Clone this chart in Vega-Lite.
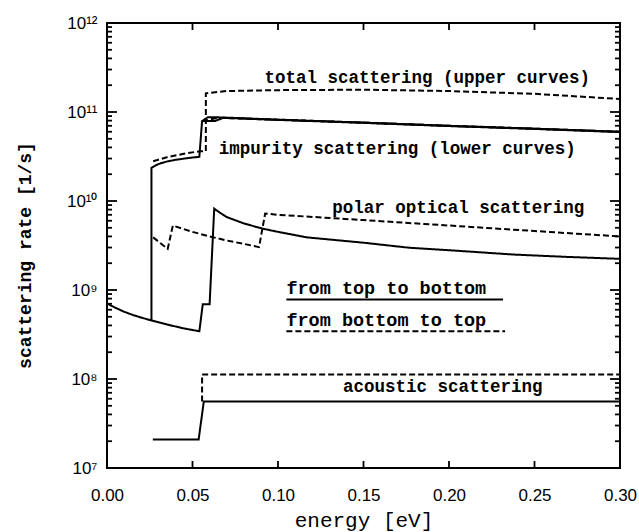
{
  "$schema": "https://vega.github.io/schema/vega-lite/v6.json",
  "width": 513,
  "height": 445,
  "autosize": {"type": "none"},
  "padding": {"left": 107, "top": 23, "right": 19, "bottom": 64},
  "background": "white",
  "config": {
    "view": {"stroke": "black", "strokeWidth": 2}
  },
  "datasets": {
    "curves": [
      {"s": "pol_s", "st": "solid", "e": 0, "r": 7.05e8},
      {"s": "pol_s", "st": "solid", "e": 0.005, "r": 6.3e8},
      {"s": "pol_s", "st": "solid", "e": 0.01, "r": 5.7e8},
      {"s": "pol_s", "st": "solid", "e": 0.015, "r": 5.25e8},
      {"s": "pol_s", "st": "solid", "e": 0.02, "r": 4.9e8},
      {"s": "pol_s", "st": "solid", "e": 0.026, "r": 4.55e8},
      {"s": "pol_s", "st": "solid", "e": 0.035, "r": 4.1e8},
      {"s": "pol_s", "st": "solid", "e": 0.045, "r": 3.7e8},
      {"s": "pol_s", "st": "solid", "e": 0.054, "r": 3.44e8},
      {"s": "pol_s", "st": "solid", "e": 0.056, "r": 6.9e8},
      {"s": "pol_s", "st": "solid", "e": 0.06, "r": 6.9e8},
      {"s": "pol_s", "st": "solid", "e": 0.0627, "r": 8.2e9},
      {"s": "pol_s", "st": "solid", "e": 0.066, "r": 7.4e9},
      {"s": "pol_s", "st": "solid", "e": 0.07, "r": 6.6e9},
      {"s": "pol_s", "st": "solid", "e": 0.08, "r": 5.6e9},
      {"s": "pol_s", "st": "solid", "e": 0.0908, "r": 4.9e9},
      {"s": "pol_s", "st": "solid", "e": 0.1, "r": 4.5e9},
      {"s": "pol_s", "st": "solid", "e": 0.117, "r": 3.9e9},
      {"s": "pol_s", "st": "solid", "e": 0.15, "r": 3.4e9},
      {"s": "pol_s", "st": "solid", "e": 0.177, "r": 2.98e9},
      {"s": "pol_s", "st": "solid", "e": 0.2, "r": 2.8e9},
      {"s": "pol_s", "st": "solid", "e": 0.238, "r": 2.5e9},
      {"s": "pol_s", "st": "solid", "e": 0.27, "r": 2.35e9},
      {"s": "pol_s", "st": "solid", "e": 0.3, "r": 2.24e9},
      {"s": "pol_d", "st": "dashed", "e": 0.027, "r": 3.9e9},
      {"s": "pol_d", "st": "dashed", "e": 0.0355, "r": 2.9e9},
      {"s": "pol_d", "st": "dashed", "e": 0.0385, "r": 5.3e9},
      {"s": "pol_d", "st": "dashed", "e": 0.05, "r": 4.5e9},
      {"s": "pol_d", "st": "dashed", "e": 0.06, "r": 4.0e9},
      {"s": "pol_d", "st": "dashed", "e": 0.07, "r": 3.6e9},
      {"s": "pol_d", "st": "dashed", "e": 0.08, "r": 3.3e9},
      {"s": "pol_d", "st": "dashed", "e": 0.0889, "r": 3.03e9},
      {"s": "pol_d", "st": "dashed", "e": 0.0925, "r": 7.24e9},
      {"s": "pol_d", "st": "dashed", "e": 0.1, "r": 7.0e9},
      {"s": "pol_d", "st": "dashed", "e": 0.15, "r": 6.1e9},
      {"s": "pol_d", "st": "dashed", "e": 0.2, "r": 5.3e9},
      {"s": "pol_d", "st": "dashed", "e": 0.25, "r": 4.6e9},
      {"s": "pol_d", "st": "dashed", "e": 0.3, "r": 4.0e9},
      {"s": "tot_s", "st": "solid", "e": 0.026, "r": 4.55e8},
      {"s": "tot_s", "st": "solid", "e": 0.026, "r": 2.36e10},
      {"s": "tot_s", "st": "solid", "e": 0.03, "r": 2.6e10},
      {"s": "tot_s", "st": "solid", "e": 0.035, "r": 2.78e10},
      {"s": "tot_s", "st": "solid", "e": 0.04, "r": 2.9e10},
      {"s": "tot_s", "st": "solid", "e": 0.047, "r": 3.03e10},
      {"s": "tot_s", "st": "solid", "e": 0.054, "r": 3.14e10},
      {"s": "tot_s", "st": "solid", "e": 0.0556, "r": 7.9e10},
      {"s": "tot_s", "st": "solid", "e": 0.059, "r": 8.75e10},
      {"s": "tot_s", "st": "solid", "e": 0.066, "r": 8.7e10},
      {"s": "tot_s", "st": "solid", "e": 0.08, "r": 8.5e10},
      {"s": "tot_s", "st": "solid", "e": 0.1, "r": 8.2e10},
      {"s": "tot_s", "st": "solid", "e": 0.15, "r": 7.6e10},
      {"s": "tot_s", "st": "solid", "e": 0.2, "r": 7.0e10},
      {"s": "tot_s", "st": "solid", "e": 0.25, "r": 6.5e10},
      {"s": "tot_s", "st": "solid", "e": 0.3, "r": 6.0e10},
      {"s": "imp_s", "st": "solid", "e": 0.0556, "r": 7.9e10},
      {"s": "imp_s", "st": "solid", "e": 0.063, "r": 7.9e10},
      {"s": "imp_s", "st": "solid", "e": 0.068, "r": 8.6e10},
      {"s": "imp_s", "st": "solid", "e": 0.1, "r": 8.15e10},
      {"s": "imp_s", "st": "solid", "e": 0.15, "r": 7.55e10},
      {"s": "imp_s", "st": "solid", "e": 0.2, "r": 6.95e10},
      {"s": "imp_s", "st": "solid", "e": 0.25, "r": 6.45e10},
      {"s": "imp_s", "st": "solid", "e": 0.3, "r": 5.95e10},
      {"s": "tot_d", "st": "dashed", "e": 0.027, "r": 2.8e10},
      {"s": "tot_d", "st": "dashed", "e": 0.035, "r": 3.1e10},
      {"s": "tot_d", "st": "dashed", "e": 0.045, "r": 3.4e10},
      {"s": "tot_d", "st": "dashed", "e": 0.0546, "r": 3.63e10},
      {"s": "tot_d", "st": "dashed", "e": 0.0578, "r": 3.63e10},
      {"s": "tot_d", "st": "dashed", "e": 0.0578, "r": 1.62e11},
      {"s": "tot_d", "st": "dashed", "e": 0.07, "r": 1.72e11},
      {"s": "tot_d", "st": "dashed", "e": 0.1, "r": 1.76e11},
      {"s": "tot_d", "st": "dashed", "e": 0.15, "r": 1.78e11},
      {"s": "tot_d", "st": "dashed", "e": 0.2, "r": 1.72e11},
      {"s": "tot_d", "st": "dashed", "e": 0.25, "r": 1.6e11},
      {"s": "tot_d", "st": "dashed", "e": 0.3, "r": 1.4e11},
      {"s": "imp_d", "st": "dashed", "e": 0.0556, "r": 7.9e10},
      {"s": "imp_d", "st": "dashed", "e": 0.065, "r": 8.6e10},
      {"s": "imp_d", "st": "dashed", "e": 0.1, "r": 8.2e10},
      {"s": "imp_d", "st": "dashed", "e": 0.15, "r": 7.6e10},
      {"s": "imp_d", "st": "dashed", "e": 0.2, "r": 7.0e10},
      {"s": "imp_d", "st": "dashed", "e": 0.25, "r": 6.5e10},
      {"s": "imp_d", "st": "dashed", "e": 0.3, "r": 6.0e10},
      {"s": "ac_s", "st": "solid", "e": 0.0268, "r": 2.09e7},
      {"s": "ac_s", "st": "solid", "e": 0.0536, "r": 2.09e7},
      {"s": "ac_s", "st": "solid", "e": 0.0566, "r": 5.58e7},
      {"s": "ac_s", "st": "solid", "e": 0.3, "r": 5.58e7},
      {"s": "ac_d", "st": "dashed", "e": 0.0556, "r": 5.58e7},
      {"s": "ac_d", "st": "dashed", "e": 0.0556, "r": 1.12e8},
      {"s": "ac_d", "st": "dashed", "e": 0.3, "r": 1.12e8},
      {"s": "leg_s", "st": "solid", "e": 0.1049, "r": 7.8e8},
      {"s": "leg_s", "st": "solid", "e": 0.2316, "r": 7.8e8},
      {"s": "leg_d", "st": "dashed", "e": 0.1049, "r": 3.44e8},
      {"s": "leg_d", "st": "dashed", "e": 0.2328, "r": 3.44e8}
    ],
    "notes": [
      {"t": "total scattering (upper curves)", "e": 0.1873, "r": 2.38e11},
      {"t": "impurity scattering (lower curves)", "e": 0.1697, "r": 3.8e10},
      {"t": "polar optical scattering", "e": 0.2054, "r": 8.4e9},
      {"t": "acoustic scattering", "e": 0.1964, "r": 8.2e7}
    ],
    "legend": [
      {"t": "from top to bottom", "e": 0.1049, "r": 1.06e9},
      {"t": "from bottom to top", "e": 0.1049, "r": 4.58e8}
    ],
    "yticks": [
      {"v": 1e7, "k": "major"}, {"v": 2e7, "k": "minor"}, {"v": 3e7, "k": "minor"}, {"v": 4e7, "k": "minor"}, {"v": 5e7, "k": "minor"}, {"v": 6e7, "k": "minor"}, {"v": 7e7, "k": "minor"}, {"v": 8e7, "k": "minor"}, {"v": 9e7, "k": "minor"},
      {"v": 1e8, "k": "major"}, {"v": 2e8, "k": "minor"}, {"v": 3e8, "k": "minor"}, {"v": 4e8, "k": "minor"}, {"v": 5e8, "k": "minor"}, {"v": 6e8, "k": "minor"}, {"v": 7e8, "k": "minor"}, {"v": 8e8, "k": "minor"}, {"v": 9e8, "k": "minor"},
      {"v": 1e9, "k": "major"}, {"v": 2e9, "k": "minor"}, {"v": 3e9, "k": "minor"}, {"v": 4e9, "k": "minor"}, {"v": 5e9, "k": "minor"}, {"v": 6e9, "k": "minor"}, {"v": 7e9, "k": "minor"}, {"v": 8e9, "k": "minor"}, {"v": 9e9, "k": "minor"},
      {"v": 1e10, "k": "major"}, {"v": 2e10, "k": "minor"}, {"v": 3e10, "k": "minor"}, {"v": 4e10, "k": "minor"}, {"v": 5e10, "k": "minor"}, {"v": 6e10, "k": "minor"}, {"v": 7e10, "k": "minor"}, {"v": 8e10, "k": "minor"}, {"v": 9e10, "k": "minor"},
      {"v": 1e11, "k": "major"}, {"v": 2e11, "k": "minor"}, {"v": 3e11, "k": "minor"}, {"v": 4e11, "k": "minor"}, {"v": 5e11, "k": "minor"}, {"v": 6e11, "k": "minor"}, {"v": 7e11, "k": "minor"}, {"v": 8e11, "k": "minor"}, {"v": 9e11, "k": "minor"},
      {"v": 1e12, "k": "major"}
    ],
    "xticks": [
      {"v": 0.05}, {"v": 0.1}, {"v": 0.15}, {"v": 0.2}, {"v": 0.25}
    ]
  },
  "layer": [
    {
      "data": {"name": "curves"},
      "mark": {"type": "line", "strokeWidth": 2, "color": "black", "clip": true},
      "encoding": {
        "x": {
          "field": "e", "type": "quantitative",
          "scale": {"domain": [0, 0.3], "nice": false, "zero": false},
          "axis": {
            "orient": "bottom",
            "domain": false,
            "grid": false,
            "ticks": false,
            "tickSize": 0,
            "values": [0, 0.05, 0.1, 0.15, 0.2, 0.25, 0.3],
            "format": ".2f",
            "labelPadding": 19,
            "labelFlush": false,
            "labelOverlap": false,
            "labelColor": "black",
            "labelFont": "Liberation Sans",
            "labelFontSize": 17,
            "title": "energy [eV]",
            "titleColor": "black",
            "titleFont": "Liberation Mono",
            "titleFontSize": 21,
            "titleFontWeight": "normal",
            "titleX": 256.5,
            "titleY": 52,
            "titleAlign": "center",
            "titleBaseline": "middle"
          }
        },
        "y": {
          "field": "r", "type": "quantitative",
          "scale": {"type": "log", "domain": [1e7, 1e12], "nice": false},
          "axis": {
            "orient": "left",
            "domain": false,
            "grid": false,
            "ticks": false,
            "tickSize": 0,
            "values": [1e7, 1e8, 1e9, 1e10, 1e11, 1e12],
            "labelExpr": "'10' + ['⁷','⁸','⁹','¹⁰','¹¹','¹²'][indexof([1e7,1e8,1e9,1e10,1e11,1e12], datum.value)]",
            "labelPadding": 10,
            "labelFlush": false,
            "labelOverlap": false,
            "labelColor": "black",
            "labelFont": "Liberation Sans",
            "labelFontSize": 17,
            "title": "scattering rate [1/s]",
            "titleColor": "black",
            "titleFont": "Liberation Mono",
            "titleFontSize": 18,
            "titleFontWeight": "bold",
            "titleAngle": -90,
            "titleX": -82,
            "titleY": 232,
            "titleAlign": "center",
            "titleBaseline": "middle"
          }
        },
        "detail": {"field": "s"},
        "strokeDash": {"field": "st", "type": "nominal", "scale": {"domain": ["solid", "dashed"], "range": [[1, 0], [6, 3]]}, "legend": null},
        "order": {"value": null}
      }
    },
    {
      "data": {"name": "notes"},
      "mark": {"type": "text", "font": "Liberation Mono", "fontWeight": "bold", "fontSize": 17.5, "align": "center", "baseline": "middle", "color": "black"},
      "encoding": {
        "x": {"field": "e", "type": "quantitative", "axis": null},
        "y": {"field": "r", "type": "quantitative", "axis": null},
        "text": {"field": "t"}
      }
    },
    {
      "data": {"name": "legend"},
      "mark": {"type": "text", "font": "Liberation Mono", "fontWeight": "bold", "fontSize": 18.5, "align": "left", "baseline": "middle", "color": "black"},
      "encoding": {
        "x": {"field": "e", "type": "quantitative", "axis": null},
        "y": {"field": "r", "type": "quantitative", "axis": null},
        "text": {"field": "t"}
      }
    },
    {
      "data": {"name": "yticks"},
      "mark": {"type": "tick", "orient": "horizontal", "thickness": 1.8, "color": "black", "opacity": 1, "clip": true},
      "encoding": {
        "x": {"datum": 0, "type": "quantitative", "axis": null},
        "y": {"field": "v", "type": "quantitative", "axis": null},
        "size": {"field": "k", "type": "ordinal", "scale": {"domain": ["major", "minor"], "range": [20, 10]}, "legend": null}
      }
    },
    {
      "data": {"name": "yticks"},
      "mark": {"type": "tick", "orient": "horizontal", "thickness": 1.8, "color": "black", "opacity": 1, "clip": true},
      "encoding": {
        "x": {"datum": 0.3, "type": "quantitative", "axis": null},
        "y": {"field": "v", "type": "quantitative", "axis": null},
        "size": {"field": "k", "type": "ordinal", "scale": {"domain": ["major", "minor"], "range": [20, 10]}, "legend": null}
      }
    },
    {
      "data": {"name": "xticks"},
      "mark": {"type": "tick", "orient": "vertical", "thickness": 1.8, "size": 14, "color": "black", "opacity": 1, "clip": true},
      "encoding": {
        "x": {"field": "v", "type": "quantitative", "axis": null},
        "y": {"datum": 1e7, "type": "quantitative", "axis": null}
      }
    },
    {
      "data": {"name": "xticks"},
      "mark": {"type": "tick", "orient": "vertical", "thickness": 1.8, "size": 14, "color": "black", "opacity": 1, "clip": true},
      "encoding": {
        "x": {"field": "v", "type": "quantitative", "axis": null},
        "y": {"datum": 1e12, "type": "quantitative", "axis": null}
      }
    }
  ],
  "resolve": {"axis": {"x": "independent", "y": "independent"}}
}
